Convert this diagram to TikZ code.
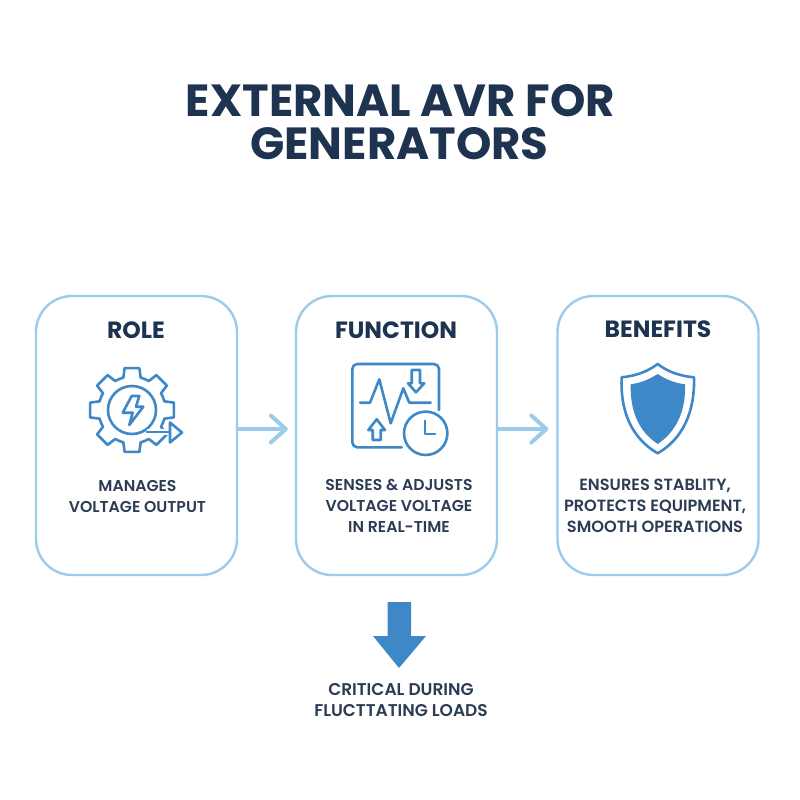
\documentclass[tikz,border=0pt]{standalone}
\usepackage{fontspec}
\setmainfont{Poppins}[UprightFont=* SemiBold,BoldFont=* Bold]
\usetikzlibrary{arrows.meta}
\definecolor{ink}{HTML}{1D3350}
\definecolor{bodyink}{HTML}{2C3C55}
\definecolor{edge}{HTML}{9DCBEC}
\definecolor{icon}{HTML}{3F88C8}
\tikzset{>={Straight Barb[length=15pt,width=27pt,round]}}
\tikzset{
    card/.style={draw=edge, line width=2.4pt, fill=white, rounded corners=36pt, minimum width=201pt, minimum height=279pt},
    heading/.style={font=\bfseries\fontsize{23.5}{23.5}\selectfont, text=ink},
    caption/.style={align=center, font=\fontsize{15.7}{21}\selectfont, text=bodyink},
    titletext/.style={align=center, font=\bfseries\fontsize{45}{45}\selectfont, text=ink},
    link/.style={->, draw=edge, line width=4pt, line cap=round},
    iconline/.style={draw=icon, line width=2.6pt, line join=round, line cap=round}
}

\begin{document}
\begin{tikzpicture}[x=1pt, y=-1pt, line join = round]
    \useasboundingbox (0,0) rectangle (800,800);
    \fill[white] (0,0) rectangle (800,800);

    \node[titletext] (title1) at (400.5,100.5) {EXTERNAL AVR FOR};
    \node[titletext] (title2) at (399.5,144) {GENERATORS};

    \node[card] (role) at (136.5,435.5) {};
    \node[card] (function) at (396.5,435.5) {};
    \node[card] (benefits) at (658,435.5) {};

    \node[heading] (rolehead) at (136,330) {ROLE};
    \node[heading] (functionhead) at (396,330) {FUNCTION};
    \node[heading] (benefitshead) at (658,329) {BENEFITS};

    \node[caption] (rolecap) at (137.5,496) {MANAGES\\VOLTAGE OUTPUT};
    \node[caption] (functioncap) at (399,506) {SENSES \& ADJUSTS\\VOLTAGE VOLTAGE\\IN REAL-TIME};
    \node[caption, font=\fontsize{16.2}{21}\selectfont] (benefitscap) at (655,506) {ENSURES STABLITY,\\PROTECTS EQUIPMENT,\\SMOOTH OPERATIONS};
    \node[caption, font=\fontsize{17}{21}\selectfont] (loadcap) at (401,700.5) {CRITICAL DURING\\FLUCTTATING LOADS};

    \draw[link] ([yshift=6.5pt]role.east) -- ([xshift=-7pt,yshift=6.5pt]function.west);
    \draw[link] ([yshift=6.5pt]function.east) -- ([xshift=-8pt,yshift=6.5pt]benefits.west);

    \fill[icon] (387.5,602) -- (411,602) -- (411,636) -- (426,636) -- (399,668) -- (373,636) -- (387.5,636) -- cycle;

    \begin{scope}[shift={(132,410)}]
        \foreach \a in {0,45,...,315}{
            \draw[iconline] ({\a-10}:42.5) -- ({\a+10}:42.5) -- ({\a+15}:33.5) arc[start angle=\a+15, end angle=\a+30, radius=33.5] -- ({\a+35}:42.5);
        }
        \draw[iconline] (0,0) circle (24);
        \draw[iconline] (-0.3,-14) -- (7.3,-14) -- (4,-3.3) -- (11.3,-3.3) -- (-2.7,15) -- (0.7,2.7) -- (-9.3,2.7) -- cycle;
    \end{scope}
    \draw[white, line width=6pt] (147,432) -- (172,432);
    \draw[iconline] (147,432) -- (170,432);
    \draw[iconline] (170,422.5) -- (182,432.5) -- (170,442.5) -- cycle;

    \draw[iconline, rounded corners=5pt] (439,410) -- (439,364) -- (352.3,364) -- (352.3,447.3) -- (401.7,447.3);
    \draw[iconline] (360,402.7) -- (370,402.7) -- (379.3,379.3) -- (390.7,423.3) -- (403.3,388.3) -- (409.3,402.7) -- (430.7,402.7);
    \draw[iconline] (411.7,370) -- (420,370) -- (420,383.3) -- (424.3,383.3) -- (416,392.3) -- (408,383.3) -- (411.7,383.3) -- cycle;
    \draw[iconline] (376.7,419.3) -- (385,430) -- (380.7,430) -- (380.7,440) -- (372.7,440) -- (372.7,430) -- (368.3,430) -- cycle;
    \draw[iconline] (425.7,433.3) circle (21.7);
    \draw[iconline] (425,420.7) -- (425,434) -- (435,434);

    \draw[iconline] (657.7,364) .. controls (668,372) and (680,376) .. (694,377.3) .. controls (695,410) and (684,438) .. (657.7,453.3) .. controls (631,438) and (620,410) .. (621.7,377.3) .. controls (635,376) and (647,372) .. cycle;
    \fill[icon] (657.7,374) .. controls (667,380) and (675,383) .. (685,384.3) .. controls (686,410) and (677,431) .. (657.7,444) .. controls (638,431) and (630,410) .. (630.7,384.3) .. controls (640,383) and (648,380) .. cycle;
\end{tikzpicture}
\end{document}
